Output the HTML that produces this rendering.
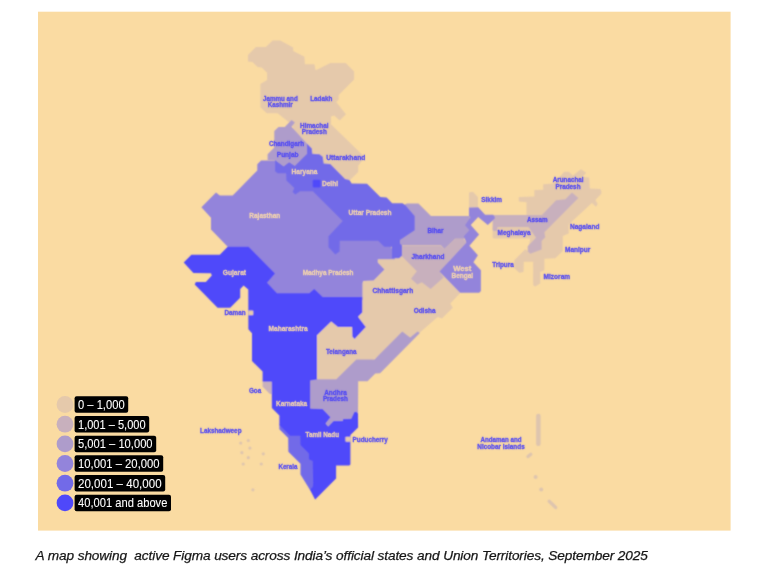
<!DOCTYPE html>
<html lang="en">
<head>
<meta charset="utf-8">
<title>Active Figma users across India</title>
<style>
html,body{margin:0;padding:0;background:#fff;}
body{width:767px;height:568px;position:relative;overflow:hidden;font-family:"Liberation Sans",sans-serif;}
svg{position:absolute;left:0;top:0;display:block;}
svg text{font-family:"Liberation Sans",sans-serif;font-weight:bold;font-size:6.8px;stroke-width:0.3px;}
svg text.lg{font-weight:normal;font-size:12.8px;fill:#fff;stroke:#fff;stroke-width:0.08px;}
.cap{position:absolute;left:35.6px;top:547.2px;letter-spacing:-0.104px;-webkit-text-stroke:0.25px #161616;margin:0;white-space:pre;font-style:italic;font-size:13.65px;line-height:17px;color:#161616;}
</style>
</head>
<body>
<svg width="767" height="568" viewBox="0 0 767 568">
<defs><filter id="bl" x="-5%" y="-5%" width="110%" height="110%"><feConvolveMatrix order="3" kernelMatrix="1 2 1 2 6 2 1 2 1" divisor="18" edgeMode="duplicate" preserveAlpha="false"/></filter><filter id="bt" x="-5%" y="-5%" width="110%" height="110%"><feConvolveMatrix order="3" kernelMatrix="0.5 1 0.5 1 8 1 0.5 1 0.5" divisor="14" edgeMode="duplicate" preserveAlpha="false"/></filter></defs>
<rect x="38" y="11.7" width="692.6" height="518.9" fill="#FADBA2"/>
<g filter="url(#bl)">
<g>
<polygon points="248.0,55.1 255.9,47.1 265.9,47.1 272.6,40.4 280.2,40.4 293.2,47.6 293.2,50.9 304.4,56.8 304.9,64.3 314.5,64.3 315.3,69.8 317.0,69.8 330.3,63.1 345.7,63.1 354.1,71.5 354.1,79.4 338.7,94.9 338.7,99.4 336.2,101.9 345.9,114.2 339.7,120.4 334.2,115.6 331.0,116.6 330.9,124.2 362.6,155.1 362.6,160.1 358.2,165.7 358.2,172.0 349.5,180.5 320.0,182.0 300.0,160.0 293.0,127.0 289.5,122.8 277.6,113.3 266.8,113.3 260.4,107.3 260.4,83.9 267.1,79.9 267.1,72.7 261.7,67.6 257.6,67.1 252.5,62.1 248.0,61.5" fill="#E5C9AB"/>
<polygon points="377.8,259.3 392.5,259.3 392.5,255.0 420.0,255.0 455.0,262.0 460.0,293.2 450.3,303.5 452.8,307.7 441.9,318.6 437.7,316.9 417.0,335.0 400.0,340.0 370.0,362.0 340.0,381.0 317.0,381.0 317.0,335.2 331.2,321.5 337.9,327.1 352.1,327.1 352.4,336.8 354.6,338.9 365.8,327.1 358.0,316.8 362.5,312.6 362.5,283.5 363.2,281.0 373.6,280.4 384.5,269.5 377.8,262.6" fill="#E5C9AB"/>
<polygon points="518.8,197.1 534.4,196.5 534.4,190.1 543.2,189.8 543.2,184.3 553.6,183.4 564.2,171.8 568.8,171.8 572.8,175.6 581.0,169.3 586.2,172.8 582.3,177.1 589.2,177.6 589.7,188.6 600.4,188.9 601.3,191.3 601.3,193.8 595.4,200.1 597.7,204.1 596.0,206.8 591.9,203.0 568.7,224.4 568.7,233.5 562.8,236.0 562.8,251.0 555.3,258.2 544.4,258.8 544.4,270.2 540.2,271.9 540.2,283.6 535.2,286.6 533.2,285.3 533.2,261.8 523.8,261.8 523.5,271.9 519.3,272.7 514.3,268.2 514.3,260.2 525.2,249.3 527.7,251.0 530.0,240.0 526.5,214.4 526.5,202.2 518.8,201.5" fill="#E5C9AB"/>
<polygon points="492.6,227.0 528.5,227.0 535.2,236.1 530.2,238.6 493.5,238.6 492.6,237.5" fill="#E5C9AB"/>
<polygon points="469.0,192.8 470.7,191.9 473.2,191.9 477.9,196.9 477.9,207.5 469.0,207.5" fill="#E5C9AB"/>
<polygon points="493.5,215.0 541.9,215.0 556.1,200.2 565.3,199.3 572.0,192.6 578.4,198.1 544.4,232.3 545.3,237.3 541.6,241.1 541.6,249.5 530.2,253.7 527.7,251.2 527.7,246.2 536.0,237.8 528.5,226.9 497.6,226.9 496.7,231.1 493.6,231.1 492.6,230.0 492.6,216.0" fill="#C8B0BD"/>
<polygon points="401.7,246.0 441.1,246.0 444.4,248.9 455.0,238.8 463.8,238.8 466.3,242.6 439.4,271.4 443.6,277.6 430.6,289.1 421.8,282.3 417.4,284.6 411.0,278.8 416.8,271.2 401.7,255.9" fill="#C8B0BD"/>
<polygon points="262.6,381.9 272.0,381.9 272.0,394.6 269.3,393.6 262.6,386.6" fill="#C8B0BD"/>
<polygon points="274.3,130.9 278.5,127.1 284.8,127.1 291.5,120.0 294.9,122.5 291.5,126.7 306.9,143.5 306.9,153.8 294.8,165.8 289.1,162.1 283.7,166.2 275.5,160.3 267.6,159.9 267.6,154.3 274.3,147.6" fill="#AE9CCB"/>
<polygon points="404.0,205.0 406.8,203.4 418.5,203.4 431.0,216.0 469.5,216.0 471.0,225.0 470.0,236.0 463.8,238.8 455.0,238.8 444.4,248.9 441.1,245.6 395.0,245.6 395.0,228.0 410.0,215.0" fill="#AE9CCB"/>
<polygon points="310.3,380.5 317.0,379.3 336.3,379.3 356.3,359.4 374.4,359.4 402.3,331.5 410.1,337.5 417.6,331.5 419.9,333.1 380.1,373.2 375.3,373.5 367.5,381.2 358.2,381.3 358.0,413.5 356.5,411.8 354.3,412.0 351.1,418.7 343.1,419.0 342.7,421.0 333.5,421.0 328.1,426.5 325.6,423.5 330.6,417.3 322.7,408.9 310.3,408.5" fill="#AE9CCB"/>
<polygon points="261.1,160.4 276.0,160.4 277.5,171.5 287.5,172.5 290.0,180.0 298.0,186.0 335.0,195.0 385.0,225.0 395.0,259.3 377.8,259.3 377.8,262.6 384.5,269.5 373.6,280.4 363.2,281.0 362.5,283.5 362.5,300.0 275.0,300.0 262.0,285.0 227.7,246.7 211.0,229.4 211.0,217.7 201.4,207.3 216.0,192.6 219.8,195.5 232.7,195.5 257.3,170.4 257.3,164.2" fill="#9384DB"/>
<polygon points="469.0,207.5 478.2,207.3 485.1,214.8 493.2,214.8 494.8,216.9 494.8,218.5 487.8,225.0 478.2,216.9 470.7,225.0 479.1,234.4 469.4,245.7 477.9,255.3 473.4,262.3 480.9,270.2 480.9,291.0 479.2,292.7 460.0,292.7 439.4,271.4 466.3,242.6 463.8,236.3 469.4,230.3 465.0,225.3 470.3,217.5 469.0,215.7" fill="#9384DB"/>
<polygon points="275.1,160.2 275.5,160.3 283.7,166.2 289.1,162.1 294.8,165.8 306.9,153.8 306.9,143.5 311.9,148.5 312.3,153.8 319.5,154.3 322.8,156.8 323.7,163.5 330.3,163.9 345.1,178.9 349.5,179.9 351.6,183.6 367.0,183.8 380.3,197.1 386.6,197.5 392.2,203.3 402.5,203.3 405.4,205.2 414.7,216.0 414.7,230.2 400.0,239.9 400.0,243.6 402.0,245.4 402.0,255.8 399.2,258.3 392.0,258.3 392.0,246.8 384.2,246.8 378.2,240.8 339.8,240.8 339.6,251.5 335.3,254.5 328.5,247.3 328.5,236.3 342.7,221.1 312.8,191.3 300.2,191.3 295.3,194.6 292.6,192.0 294.3,188.0 286.4,180.5 286.1,173.3 277.6,173.3 275.1,171.2" fill="#726AE8"/>
<polygon points="279.4,424.5 279.4,429.2 288.2,438.0 288.4,451.8 300.5,463.8 300.5,474.4 310.2,490.3 315.2,499.5 320.0,480.0 320.0,430.0 295.0,425.0" fill="#726AE8"/>
<polygon points="227.7,246.7 248.6,246.7 275.0,273.5 267.0,282.7 277.0,293.2 309.3,293.2 314.2,288.9 322.7,297.0 362.3,297.0 362.3,312.6 358.0,316.8 365.8,327.1 354.6,338.9 352.4,336.8 352.1,327.1 337.9,327.1 331.2,321.5 317.0,335.2 317.0,379.5 310.3,380.5 310.3,408.5 322.7,408.9 330.6,417.3 325.6,423.5 328.1,426.5 333.5,421.0 342.7,421.0 343.1,419.0 351.1,418.7 354.3,412.0 356.5,411.8 358.0,413.5 358.1,427.6 350.4,435.0 350.4,464.5 349.3,465.6 336.1,465.6 336.1,478.6 315.2,499.5 310.2,489.4 312.7,486.9 313.2,483.6 312.7,461.0 308.9,459.3 308.9,453.5 300.5,445.1 300.3,435.7 290.1,435.7 279.4,425.0 279.4,415.4 271.9,407.9 271.8,381.7 262.6,381.7 262.6,371.6 252.0,361.1 252.0,333.2 248.4,329.3 248.3,289.4 243.6,285.5 240.2,288.9 240.2,297.7 230.2,307.8 217.6,307.8 194.7,284.4 195.9,281.9 205.9,281.9 211.8,275.4 211.0,273.2 193.4,273.0 183.7,262.6 191.4,254.7 219.8,254.7" fill="#4F48FA"/>
<rect x="312.7" y="179.8" width="7.8" height="7.8" rx="1.3" fill="#4F48FA"/>
<rect x="248.3" y="310.6" width="5" height="4.6" rx="0.8" fill="#E5C9AB"/>
<rect x="345.4" y="436.7" width="5.2" height="5" rx="0.8" fill="#E5C9AB"/>
<circle cx="240.7" cy="443.1" r="1.6" fill="#DEC5AE"/>
<circle cx="248.3" cy="440.5" r="1.6" fill="#DEC5AE"/>
<circle cx="249.9" cy="448.1" r="1.6" fill="#DEC5AE"/>
<circle cx="241.9" cy="452.7" r="1.6" fill="#DEC5AE"/>
<circle cx="248.3" cy="457.7" r="1.6" fill="#DEC5AE"/>
<circle cx="263.3" cy="453.8" r="1.6" fill="#DEC5AE"/>
<circle cx="243.2" cy="464.0" r="1.6" fill="#DEC5AE"/>
<circle cx="261.3" cy="464.0" r="1.6" fill="#DEC5AE"/>
<circle cx="252.9" cy="489.8" r="1.6" fill="#DEC5AE"/>
<rect x="536.1" y="413.7" width="4.5" height="32.3" rx="2" fill="#DEC5AE"/>
<line x1="528" y1="456.6" x2="530.8" y2="454.2" stroke="#DEC5AE" stroke-width="3.3" stroke-linecap="round"/>
<circle cx="535.6" cy="476.9" r="2" fill="#DEC5AE"/>
<circle cx="541.2" cy="489.5" r="2" fill="#DEC5AE"/>
<line x1="549.2" y1="501.2" x2="555.7" y2="507.5" stroke="#DEC5AE" stroke-width="3.3" stroke-linecap="round"/>
</g>
</g>
<g filter="url(#bt)">
<text x="263.1" y="100.7" textLength="34.6" lengthAdjust="spacingAndGlyphs" fill="#4F47F5" stroke="#4F47F5">Jammu and</text>
<text x="267.7" y="107.0" textLength="25.1" lengthAdjust="spacingAndGlyphs" fill="#4F47F5" stroke="#4F47F5">Kashmir</text>
<text x="310.2" y="100.7" textLength="22.1" lengthAdjust="spacingAndGlyphs" fill="#4F47F5" stroke="#4F47F5">Ladakh</text>
<text x="300.0" y="127.9" textLength="28.5" lengthAdjust="spacingAndGlyphs" fill="#4F47F5" stroke="#4F47F5">Himachal</text>
<text x="301.7" y="134.2" textLength="25.1" lengthAdjust="spacingAndGlyphs" fill="#4F47F5" stroke="#4F47F5">Pradesh</text>
<text x="268.9" y="145.8" textLength="35.2" lengthAdjust="spacingAndGlyphs" fill="#4F47F5" stroke="#4F47F5">Chandigarh</text>
<text x="276.8" y="157.2" textLength="21.7" lengthAdjust="spacingAndGlyphs" fill="#4F47F5" stroke="#4F47F5">Punjab</text>
<text x="326.3" y="159.9" textLength="39.0" lengthAdjust="spacingAndGlyphs" fill="#4F47F5" stroke="#4F47F5">Uttarakhand</text>
<text x="291.6" y="173.9" textLength="25.8" lengthAdjust="spacingAndGlyphs" fill="#F3D4AE" stroke="#F3D4AE">Haryana</text>
<text x="321.9" y="186.2" textLength="16.1" lengthAdjust="spacingAndGlyphs" fill="#F3D4AE" stroke="#F3D4AE">Delhi</text>
<text x="249.3" y="218.4" textLength="31.0" lengthAdjust="spacingAndGlyphs" fill="#F3D4AE" stroke="#F3D4AE">Rajasthan</text>
<text x="348.6" y="214.9" textLength="42.9" lengthAdjust="spacingAndGlyphs" fill="#F3D4AE" stroke="#F3D4AE">Uttar Pradesh</text>
<text x="222.7" y="274.8" textLength="23.4" lengthAdjust="spacingAndGlyphs" fill="#F3D4AE" stroke="#F3D4AE">Gujarat</text>
<text x="302.7" y="274.8" textLength="50.8" lengthAdjust="spacingAndGlyphs" fill="#F3D4AE" stroke="#F3D4AE">Madhya Pradesh</text>
<text x="427.4" y="232.8" textLength="16.1" lengthAdjust="spacingAndGlyphs" fill="#4F47F5" stroke="#4F47F5">Bihar</text>
<text x="411.5" y="259.2" textLength="32.9" lengthAdjust="spacingAndGlyphs" fill="#4F47F5" stroke="#4F47F5">Jharkhand</text>
<text x="453.2" y="271.2" textLength="18.1" lengthAdjust="spacingAndGlyphs" fill="#F3D4AE" stroke="#F3D4AE">West</text>
<text x="451.5" y="277.6" textLength="21.6" lengthAdjust="spacingAndGlyphs" fill="#F3D4AE" stroke="#F3D4AE">Bengal</text>
<text x="481.3" y="202.3" textLength="20.6" lengthAdjust="spacingAndGlyphs" fill="#4F47F5" stroke="#4F47F5">Sikkim</text>
<text x="413.7" y="312.6" textLength="21.8" lengthAdjust="spacingAndGlyphs" fill="#4F47F5" stroke="#4F47F5">Odisha</text>
<text x="372.5" y="292.6" textLength="40.7" lengthAdjust="spacingAndGlyphs" fill="#4F47F5" stroke="#4F47F5">Chhattisgarh</text>
<text x="492.2" y="266.9" textLength="21.6" lengthAdjust="spacingAndGlyphs" fill="#4F47F5" stroke="#4F47F5">Tripura</text>
<text x="552.7" y="181.9" textLength="30.8" lengthAdjust="spacingAndGlyphs" fill="#4F47F5" stroke="#4F47F5">Arunachal</text>
<text x="555.5" y="188.9" textLength="25.0" lengthAdjust="spacingAndGlyphs" fill="#4F47F5" stroke="#4F47F5">Pradesh</text>
<text x="527.0" y="222.2" textLength="20.6" lengthAdjust="spacingAndGlyphs" fill="#4F47F5" stroke="#4F47F5">Assam</text>
<text x="497.6" y="235.3" textLength="32.9" lengthAdjust="spacingAndGlyphs" fill="#4F47F5" stroke="#4F47F5">Meghalaya</text>
<text x="570.0" y="228.7" textLength="29.4" lengthAdjust="spacingAndGlyphs" fill="#4F47F5" stroke="#4F47F5">Nagaland</text>
<text x="565.0" y="252.1" textLength="25.4" lengthAdjust="spacingAndGlyphs" fill="#4F47F5" stroke="#4F47F5">Manipur</text>
<text x="543.6" y="279.3" textLength="26.5" lengthAdjust="spacingAndGlyphs" fill="#4F47F5" stroke="#4F47F5">Mizoram</text>
<text x="224.5" y="315.4" textLength="21.1" lengthAdjust="spacingAndGlyphs" fill="#4F47F5" stroke="#4F47F5">Daman</text>
<text x="268.6" y="331.4" textLength="39.0" lengthAdjust="spacingAndGlyphs" fill="#F3D4AE" stroke="#F3D4AE">Maharashtra</text>
<text x="325.9" y="353.8" textLength="30.7" lengthAdjust="spacingAndGlyphs" fill="#4F47F5" stroke="#4F47F5">Telangana</text>
<text x="248.9" y="392.8" textLength="12.3" lengthAdjust="spacingAndGlyphs" fill="#4F47F5" stroke="#4F47F5">Goa</text>
<text x="276.0" y="405.7" textLength="31.2" lengthAdjust="spacingAndGlyphs" fill="#F3D4AE" stroke="#F3D4AE">Karnataka</text>
<text x="324.2" y="395.2" textLength="22.6" lengthAdjust="spacingAndGlyphs" fill="#4F47F5" stroke="#4F47F5">Andhra</text>
<text x="322.9" y="401.4" textLength="25.0" lengthAdjust="spacingAndGlyphs" fill="#4F47F5" stroke="#4F47F5">Pradesh</text>
<text x="305.5" y="437.3" textLength="33.5" lengthAdjust="spacingAndGlyphs" fill="#F3D4AE" stroke="#F3D4AE">Tamil Nadu</text>
<text x="352.6" y="442.2" textLength="35.2" lengthAdjust="spacingAndGlyphs" fill="#4F47F5" stroke="#4F47F5">Puducherry</text>
<text x="278.4" y="468.9" textLength="19.0" lengthAdjust="spacingAndGlyphs" fill="#4F47F5" stroke="#4F47F5">Kerala</text>
<text x="200.1" y="433.0" textLength="41.4" lengthAdjust="spacingAndGlyphs" fill="#4F47F5" stroke="#4F47F5">Lakshadweep</text>
<text x="480.5" y="442.3" textLength="41.0" lengthAdjust="spacingAndGlyphs" fill="#4F47F5" stroke="#4F47F5">Andaman and</text>
<text x="477.3" y="448.6" textLength="47.4" lengthAdjust="spacingAndGlyphs" fill="#4F47F5" stroke="#4F47F5">Nicobar Islands</text>
</g>
<g>
<circle cx="65" cy="404.5" r="8.4" fill="#E5C9AB"/>
<rect x="74.6" y="396.3" width="53.6" height="16.5" rx="2" fill="#000"/>
<text class="lg" x="78" y="408.9" textLength="46.6" lengthAdjust="spacingAndGlyphs">0 – 1,000</text>
<circle cx="65" cy="424.2" r="8.4" fill="#C8B0BD"/>
<rect x="74.6" y="416.0" width="74.6" height="16.5" rx="2" fill="#000"/>
<text class="lg" x="78" y="428.6" textLength="67.6" lengthAdjust="spacingAndGlyphs">1,001 – 5,000</text>
<circle cx="65" cy="443.9" r="8.4" fill="#AE9CCB"/>
<rect x="74.6" y="435.7" width="81.6" height="16.5" rx="2" fill="#000"/>
<text class="lg" x="78" y="448.3" textLength="74.6" lengthAdjust="spacingAndGlyphs">5,001 – 10,000</text>
<circle cx="65" cy="463.5" r="8.4" fill="#9384DB"/>
<rect x="74.6" y="455.3" width="88.6" height="16.5" rx="2" fill="#000"/>
<text class="lg" x="78" y="468.0" textLength="81.6" lengthAdjust="spacingAndGlyphs">10,001 – 20,000</text>
<circle cx="65" cy="483.2" r="8.4" fill="#726AE8"/>
<rect x="74.6" y="475.0" width="90.6" height="16.5" rx="2" fill="#000"/>
<text class="lg" x="78" y="487.7" textLength="83.6" lengthAdjust="spacingAndGlyphs">20,001 – 40,000</text>
<circle cx="65" cy="502.9" r="8.4" fill="#4F48FA"/>
<rect x="74.6" y="494.7" width="96.4" height="16.5" rx="2" fill="#000"/>
<text class="lg" x="78" y="507.3" textLength="89.4" lengthAdjust="spacingAndGlyphs">40,001 and above</text>
</g>
</svg>
<p class="cap">A map showing  active Figma users across India’s official states and Union Territories, September 2025</p>
</body>
</html>
